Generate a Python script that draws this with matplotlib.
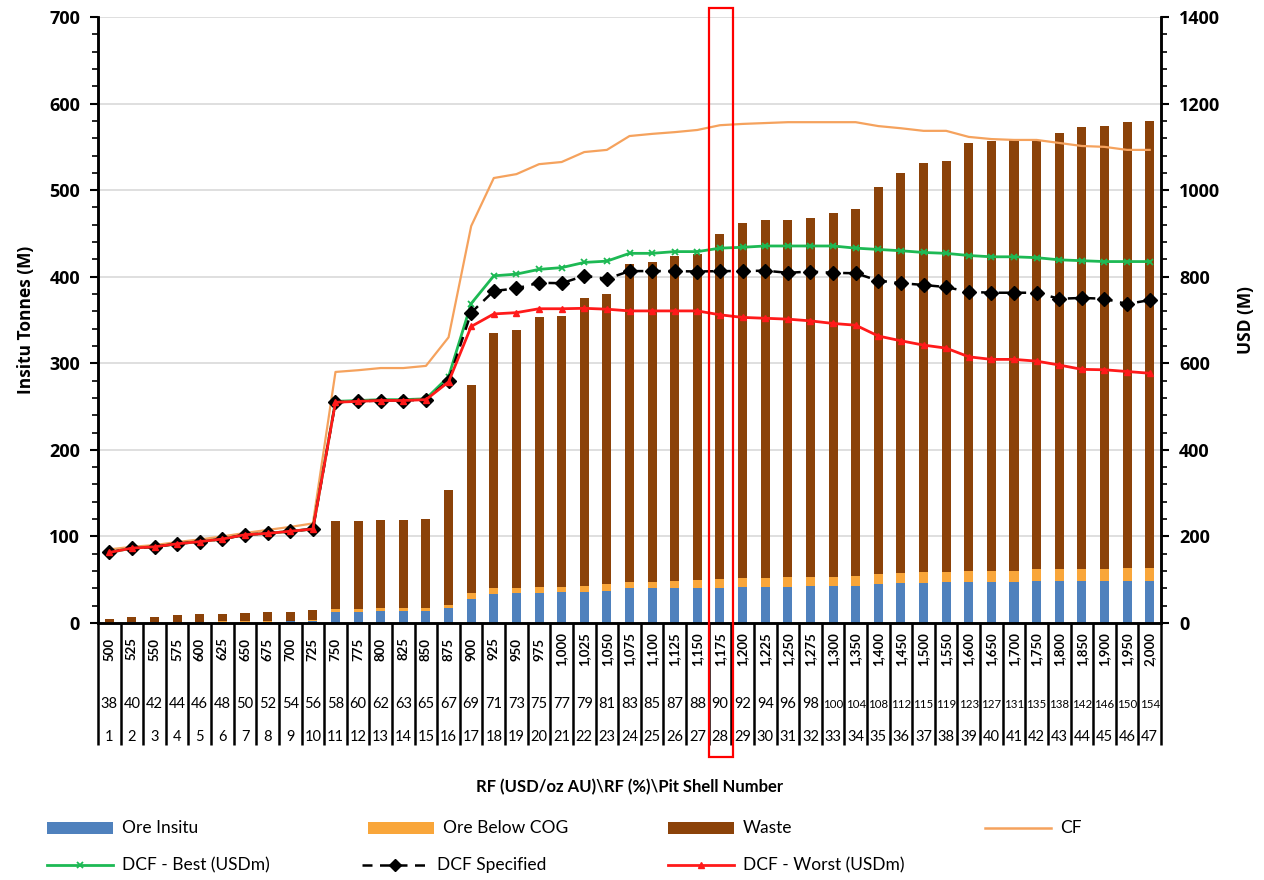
import numpy as np
import matplotlib.pyplot as plt
from matplotlib.ticker import MultipleLocator
from matplotlib.transforms import blended_transform_factory
from matplotlib.patches import Rectangle
from matplotlib.lines import Line2D

# category labels
rf_price = list(range(500, 1200, 25)) + [1200, 1225, 1250, 1275, 1300] + list(range(1350, 2001, 50))
rf_pct = [38, 40, 42, 44, 46, 48, 50, 52, 54, 56, 58, 60, 62, 63, 65, 67, 69, 71, 73, 75,
          77, 79, 81, 83, 85, 87, 88, 90, 92, 94, 96, 98, 100, 104, 108, 112, 115, 119, 123, 127,
          131, 135, 138, 142, 146, 150, 154]
pit_shell = list(range(1, 48))

# tonnes (M), left axis
ore_insitu = [0.5, 0.7, 0.8, 1, 1, 1.2, 1.5, 1.5, 2, 2.5,
              13, 13, 14, 14, 14, 17.7, 27.3, 33, 34.3, 34.3,
              35.8, 35.8, 37.3, 40, 40, 40, 40, 40.8, 41.9, 41.9,
              41.9, 43.1, 43.1, 43.1, 44.6, 46.2, 46.2, 47.4, 47.4, 47.4,
              47.4, 48.9, 48.9, 48.9, 48.9, 48.9, 48.9]
ore_below = [0.5, 0.5, 0.5, 0.5, 0.6, 0.6, 1, 1, 0.8, 0.8,
             2.8, 2.8, 2.8, 2.8, 2.8, 2.7, 7, 7.8, 6.5, 7.6,
             6.1, 7.3, 7.3, 7.4, 7.7, 8.9, 9.2, 9.6, 9.7, 9.7,
             11.2, 10, 10, 11.6, 11.6, 11.6, 13.1, 11.9, 13, 13,
             13, 13.1, 13.1, 13.1, 13.1, 14.3, 14.3]
total = [5, 7, 7, 9, 10, 10, 12, 13, 13, 15,
         118, 118, 119, 119, 120, 154, 275, 335, 339, 353,
         355, 375, 380, 415, 417, 424, 426, 449, 462, 465,
         466, 468, 474, 478, 504, 520, 531, 534, 554, 557,
         558, 558, 566, 573, 574, 579, 580]
waste = [t - a - b for t, a, b in zip(total, ore_insitu, ore_below)]

# USD (M), right axis
cf = [170, 176, 180, 187, 193, 200, 208, 215, 222, 230,
      580, 584, 589, 589, 594, 660, 917, 1028, 1037, 1060,
      1065, 1088, 1093, 1125, 1130, 1134, 1139, 1150, 1153, 1155,
      1157, 1157, 1157, 1157, 1148, 1143, 1137, 1137, 1123, 1118,
      1116, 1116, 1109, 1102, 1100, 1093, 1093]
dcf_best = [163, 173, 176, 183, 188, 194, 204, 207, 212, 217,
            512, 514, 516, 516, 518, 569, 738, 802, 806, 817,
            821, 833, 836, 854, 854, 858, 858, 866, 868, 871,
            871, 871, 871, 866, 863, 860, 856, 854, 849, 846,
            846, 844, 839, 837, 835, 835, 835]
dcf_spec = [163, 173, 176, 183, 188, 194, 204, 207, 212, 217,
            510, 512, 514, 514, 516, 560, 717, 767, 773, 786,
            785, 802, 795, 813, 813, 813, 812, 813, 813, 814,
            809, 812, 809, 808, 791, 785, 781, 776, 765, 763,
            763, 763, 749, 751, 749, 737, 746]
dcf_worst = [163, 173, 176, 183, 188, 194, 204, 207, 212, 217,
             510, 512, 514, 514, 516, 557, 685, 714, 717, 726,
             726, 727, 725, 721, 721, 721, 721, 712, 706, 704,
             702, 698, 692, 688, 663, 652, 642, 635, 615, 609,
             609, 605, 596, 586, 585, 581, 577]

c_ore = '#4F81BD'
c_below = '#F9A63A'
c_waste = '#8B4209'
c_cf = '#F5A25D'
c_best = '#1DB954'
c_worst = '#FF1A1A'

W, H = 1264, 880
fig = plt.figure(figsize=(W / 100, H / 100), dpi=100)
ax = fig.add_axes([98 / W, 1 - 623 / H, (1161 - 98) / W, 606 / H])
ax2 = ax.twinx()

x = np.arange(len(total))
bw = 0.4
ax.bar(x, ore_insitu, bw, color=c_ore, zorder=2)
ax.bar(x, ore_below, bw, bottom=ore_insitu, color=c_below, zorder=2)
ax.bar(x, waste, bw, bottom=np.add(ore_insitu, ore_below), color=c_waste, zorder=2)

ax2.plot(x, cf, color=c_cf, lw=1.6)
ax2.plot(x, dcf_best, color=c_best, lw=2, marker='x', ms=5, mew=1.3)
ax2.plot(x, dcf_spec, color='black', lw=1.8, ls=(0, (4, 3)), marker='D', ms=7)
ax2.plot(x, dcf_worst, color=c_worst, lw=2, marker='^', ms=4)

ax.set_xlim(-0.5, len(total) - 0.5)
ax.set_ylim(0, 700)
ax2.set_ylim(0, 1400)
ax.yaxis.set_major_locator(MultipleLocator(100))
ax.yaxis.set_minor_locator(MultipleLocator(20))
ax2.yaxis.set_major_locator(MultipleLocator(200))
ax2.yaxis.set_minor_locator(MultipleLocator(40))
ax.grid(axis='y', color='#D9D9D9', lw=1.2)
ax.set_axisbelow(True)
ax.set_xticks([])

tick_font = dict(family='Open Sans', weight='bold', size=13)
for a in (ax, ax2):
    a.tick_params(axis='y', which='major', length=6, width=1.5, pad=7)
    a.tick_params(axis='y', which='minor', length=4, width=1.2)
    for lab in a.get_yticklabels():
        lab.set_fontproperties(tick_font)
    a.spines['top'].set_visible(False)
    for s in ('left', 'right', 'bottom'):
        a.spines[s].set_linewidth(1.8)

ax.set_ylabel('Insitu Tonnes (M)', fontfamily='Open Sans', fontweight='bold', fontsize=12.5, labelpad=10)
ax2.set_ylabel('USD (M)', fontfamily='Open Sans', fontweight='bold', fontsize=12.5, labelpad=12)

# category table under the axis
tr = blended_transform_factory(ax.transData, ax.transAxes)
y_bot = (623 - 745) / 606
ax.vlines(np.arange(len(total) + 1) - 0.5, y_bot, 0, transform=tr, colors='black', lw=1.8, clip_on=False)
for i in range(len(total)):
    ax.text(i, (623 - 649) / 606, f'{rf_price[i]:,}', transform=tr, rotation=90, ha='center', va='center',
            fontsize=9.5, fontweight='bold', family='Lato')
    pct = str(rf_pct[i])
    ax.text(i, (623 - 704) / 606, pct, transform=tr, ha='center', va='center',
            fontsize=10.5 if len(pct) < 3 else 8.3, family='Lato')
    ax.text(i, (623 - 737) / 606, str(pit_shell[i]), transform=tr, ha='center', va='center',
            fontsize=10.5, family='Lato')
fig.text(630 / W, 1 - 787 / H, 'RF (USD/oz AU)\\RF (%)\\Pit Shell Number', ha='center', va='center',
         fontsize=12, fontweight='bold', family='Lato')

# highlight of the selected shell
fig.add_artist(Rectangle((709 / W, 1 - 757 / H), 24 / W, (757 - 8) / H, transform=fig.transFigure,
                         fill=False, edgecolor='red', lw=1.6))

# legend, laid out as in the reference
def fx(px):
    return px / W

def fy(py):
    return 1 - py / H

entries = [
    (47, 828, 'patch', c_ore, 'Ore Insitu'),
    (368, 828, 'patch', c_below, 'Ore Below COG'),
    (668, 828, 'patch', c_waste, 'Waste'),
    (985, 828, 'line', dict(color=c_cf, lw=1.8), 'CF'),
    (47, 865, 'line', dict(color=c_best, lw=2, marker='x', ms=5, mew=1.3, markevery=[1]), 'DCF - Best (USDm)'),
    (362, 865, 'line', dict(color='black', lw=1.8, ls=(0, (4, 3)), marker='D', ms=6, markevery=[1]), 'DCF Specified'),
    (668, 865, 'line', dict(color=c_worst, lw=2, marker='^', ms=4, markevery=[1]), 'DCF - Worst (USDm)'),
]
for x0, y0, kind, style, label in entries:
    hl = 66
    if kind == 'patch':
        fig.add_artist(Rectangle((fx(x0), fy(y0 + 6)), hl / W, 12 / H, transform=fig.transFigure,
                                 color=style, lw=0))
    else:
        fig.add_artist(Line2D([fx(x0), fx(x0 + hl / 2), fx(x0 + hl)], [fy(y0)] * 3,
                              transform=fig.transFigure, **style))
    fig.text(fx(x0 + hl + 9), fy(y0), label, ha='left', va='center', fontsize=12.5, family='Lato')

fig.savefig('out.png', dpi=100)
